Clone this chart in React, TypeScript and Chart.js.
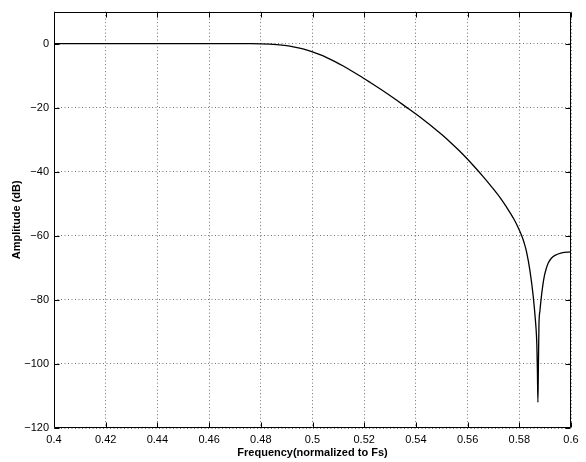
import { useEffect, useRef } from "react";
import { Chart, registerables } from "chart.js";

Chart.register(...registerables);

// Frequency (normalized to Fs)
const frequency = [
  0.4, 0.42, 0.44, 0.46, 0.47, 0.475, 0.48, 0.4862, 0.49, 0.4926, 0.4963,
  0.5, 0.5034, 0.5055, 0.5087, 0.5119, 0.515, 0.5184, 0.5222, 0.5261, 0.5294,
  0.5326, 0.5364, 0.54, 0.5433, 0.5467, 0.55, 0.5532, 0.5566, 0.56, 0.563,
  0.5661, 0.5693, 0.5725, 0.5752, 0.578, 0.5795, 0.5809, 0.5818, 0.5828,
  0.5841, 0.5854, 0.5863, 0.5866, 0.5868, 0.587, 0.5872, 0.5874, 0.5876,
  0.588, 0.5884, 0.589, 0.5897, 0.5904, 0.5912, 0.5924, 0.5938, 0.5964, 0.6,
];

// Amplitude (dB)
const amplitudeDb = [
  0, 0, 0, 0, 0, -0.02, -0.06, -0.3, -0.62, -0.98, -1.66,
  -2.55, -3.6, -4.35, -5.6, -7.0, -8.45, -10.1, -12.05, -14.1, -15.9,
  -17.7, -19.9, -22.0, -24.0, -26.15, -28.4, -30.7, -33.3, -36.1, -38.75,
  -41.6, -44.7, -48.0, -51.2, -54.9, -57.3, -59.9, -62.0, -65.0,
  -70.8, -79.0, -87.0, -90.5, -94.4, -102.0, -112.0, -100.0, -88.0,
  -83.3, -80.0, -76.0, -72.5, -70.3, -68.5, -67.0, -66.1, -65.3, -65.0,
];

const xTickValues = [0.4, 0.42, 0.44, 0.46, 0.48, 0.5, 0.52, 0.54, 0.56, 0.58, 0.6];
const yTickValues = [-120, -100, -80, -60, -40, -20, 0];
const xRange = [0.4, 0.6];
const yRange = [-120, 10];
const xTitle = "Frequency(normalized to Fs)";
const yTitle = "Amplitude (dB)";

const FONT = "'Liberation Sans', Arial, Helvetica, sans-serif";
const GRID_COLOR = "rgba(0,0,0,0.55)";

export default function App() {
  const ref = useRef<HTMLCanvasElement>(null);

  useEffect(() => {
    document.body.style.margin = "0";
    const canvas = ref.current;
    if (!canvas) return;

    const boxPlugin = {
      id: "matlabBox",
      afterDatasetsDraw(chart: any) {
        const { ctx, chartArea: a, scales } = chart;
        ctx.save();
        ctx.strokeStyle = "#000";
        ctx.lineWidth = 1;
        const L = Math.round(a.left) + 0.5;
        const R = Math.round(a.right) - 0.5;
        const T = Math.round(a.top) + 0.5;
        const B = Math.round(a.bottom) - 0.5;
        ctx.beginPath();
        ctx.rect(L, T, R - L, B - T);
        const tl = 5;
        xTickValues.forEach((v) => {
          const px = Math.round(scales.x.getPixelForValue(v)) + 0.5;
          ctx.moveTo(px, B);
          ctx.lineTo(px, B - tl);
          ctx.moveTo(px, T);
          ctx.lineTo(px, T + tl);
        });
        yTickValues.forEach((v) => {
          const py = Math.round(scales.y.getPixelForValue(v)) + 0.5;
          ctx.moveTo(L, py);
          ctx.lineTo(L + tl, py);
          ctx.moveTo(R, py);
          ctx.lineTo(R - tl, py);
        });
        ctx.stroke();
        ctx.restore();
      },
    };

    const chart = new Chart(canvas, {
      type: "line",
      data: {
        datasets: [
          {
            data: frequency.map((f, i) => ({ x: f, y: amplitudeDb[i] })),
            borderColor: "#000",
            borderWidth: 1.3,
            pointRadius: 0,
            cubicInterpolationMode: "monotone",
            fill: false,
          },
        ],
      },
      options: {
        animation: false,
        responsive: false,
        devicePixelRatio: 1,
        layout: { padding: { top: 10, right: 15, left: 0, bottom: 0 } },
        plugins: { legend: { display: false }, tooltip: { enabled: false } },
        scales: {
          x: {
            type: "linear",
            min: xRange[0],
            max: xRange[1],
            afterBuildTicks: (scale: any) => {
              scale.ticks = xTickValues.map((v) => ({ value: v }));
            },
            afterFit: (scale: any) => {
              scale.height = 34;
            },
            border: { display: false, dash: [1, 2.5] },
            grid: {
              color: GRID_COLOR,
              lineWidth: 1,
              drawTicks: false,
              tickLength: 0,
            },
            ticks: {
              padding: 5,
              color: "#000",
              font: { family: FONT, size: 11 },
              maxRotation: 0,
              autoSkip: false,
              callback: (v: any) => String(Number(Number(v).toFixed(2))),
            },
            title: {
              display: true,
              text: xTitle,
              color: "#000",
              font: { family: FONT, size: 11, weight: "bold" },
              padding: { top: 0, bottom: 2 },
            },
          },
          y: {
            type: "linear",
            min: yRange[0],
            max: yRange[1],
            afterBuildTicks: (scale: any) => {
              scale.ticks = yTickValues.map((v) => ({ value: v }));
            },
            afterFit: (scale: any) => {
              scale.width = 54;
            },
            border: { display: false, dash: [1, 2.5] },
            grid: {
              color: GRID_COLOR,
              lineWidth: 1,
              drawTicks: false,
              tickLength: 0,
            },
            ticks: {
              padding: 5,
              color: "#000",
              font: { family: FONT, size: 11 },
              autoSkip: false,
              callback: (v: any) => String(v).replace("-", "\u2212"),
            },
            title: {
              display: true,
              text: yTitle,
              color: "#000",
              font: { family: FONT, size: 11, weight: "bold" },
              padding: { top: 10, bottom: 0 },
            },
          },
        },
      },
      plugins: [boxPlugin],
    } as any);

    return () => chart.destroy();
  }, []);

  return (
    <canvas
      ref={ref}
      width={586}
      height={462}
      style={{ display: "block", width: 586, height: 462 }}
    />
  );
}
